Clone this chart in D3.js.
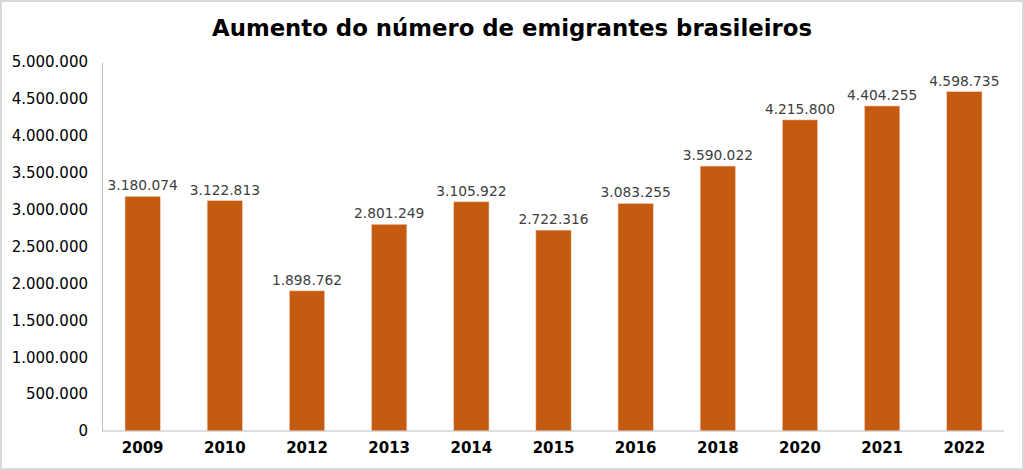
<!DOCTYPE html>
<html>
<head>
<meta charset="utf-8">
<script src="https://cdn.jsdelivr.net/npm/d3@7"></script>
<style>
  html, body { margin: 0; padding: 0; background: #fff; }
  svg { display: block; font-family: "DejaVu Sans", Verdana, sans-serif; }
</style>
</head>
<body>
<script>
// Chart data
const years = ['2009', '2010', '2012', '2013', '2014', '2015', '2016', '2018', '2020', '2021', '2022'];
const emigrants = [3180074, 3122813, 1898762, 2801249, 3105922, 2722316, 3083255, 3590022, 4215800, 4404255, 4598735];
const yTicks = [0, 500000, 1000000, 1500000, 2000000, 2500000, 3000000, 3500000, 4000000, 4500000, 5000000];

const width = 1024, height = 470;
const margin = { top: 62, right: 20, bottom: 39, left: 102 };

// Brazilian number format: dots as thousands separator
const fmt = d3.formatLocale({ decimal: ',', thousands: '.', grouping: [3], currency: ['R$', ''] }).format(',d');

const svg = d3.select('body').append('svg')
    .attr('width', width)
    .attr('height', height);

// Outer frame
svg.append('rect')
    .attr('x', 1).attr('y', 1)
    .attr('width', width - 2).attr('height', height - 2)
    .attr('fill', '#fff')
    .attr('stroke', '#d9d9d9')
    .attr('stroke-width', 2);

// Title
svg.append('text')
    .attr('x', 512)
    .attr('y', 36)
    .attr('text-anchor', 'middle')
    .attr('font-size', 22.8)
    .attr('font-weight', 'bold')
    .attr('fill', '#000')
    .text('Aumento do número de emigrantes brasileiros');

const x = d3.scaleBand()
    .domain(years)
    .range([margin.left, 1005])
    .paddingInner(0.57)
    .paddingOuter(0.28);

const y = d3.scaleLinear()
    .domain([0, 5000000])
    .range([height - margin.bottom, margin.top]);

// Y axis
const yAxis = svg.append('g')
    .attr('transform', `translate(${margin.left},0)`)
    .call(d3.axisLeft(y).tickValues(yTicks).tickFormat(fmt).tickSize(0).tickPadding(14));
yAxis.select('.domain').attr('stroke', '#bfbfbf');
yAxis.selectAll('text').attr('font-size', 15).attr('fill', '#000').attr('font-family', '"DejaVu Sans", Verdana, sans-serif');

// Bars
svg.selectAll('rect.bar')
    .data(emigrants)
    .enter()
    .append('rect')
    .attr('class', 'bar')
    .attr('x', (d, i) => x(years[i]))
    .attr('y', d => y(d))
    .attr('width', x.bandwidth())
    .attr('height', d => y(0) - y(d))
    .attr('fill', '#c55a11')
    .attr('stroke', '#f4d3bf')
    .attr('stroke-width', 0.6);

// X axis
const xAxis = svg.append('g')
    .attr('transform', `translate(0,${y(0)})`)
    .call(d3.axisBottom(x).tickSize(0).tickPadding(11));
xAxis.select('.domain').attr('stroke', '#bfbfbf').attr('d', `M${margin.left},0H1004`);
xAxis.selectAll('text').attr('font-size', 15).attr('font-weight', 'bold').attr('fill', '#000').attr('font-family', '"DejaVu Sans", Verdana, sans-serif');

// Value labels
svg.selectAll('text.value')
    .data(emigrants)
    .enter()
    .append('text')
    .attr('class', 'value')
    .attr('x', (d, i) => x(years[i]) + x.bandwidth() / 2)
    .attr('y', d => y(d) - 6)
    .attr('text-anchor', 'middle')
    .attr('font-size', 13.8)
    .attr('fill', '#404040')
    .text(d => fmt(d));
</script>
</body>
</html>
